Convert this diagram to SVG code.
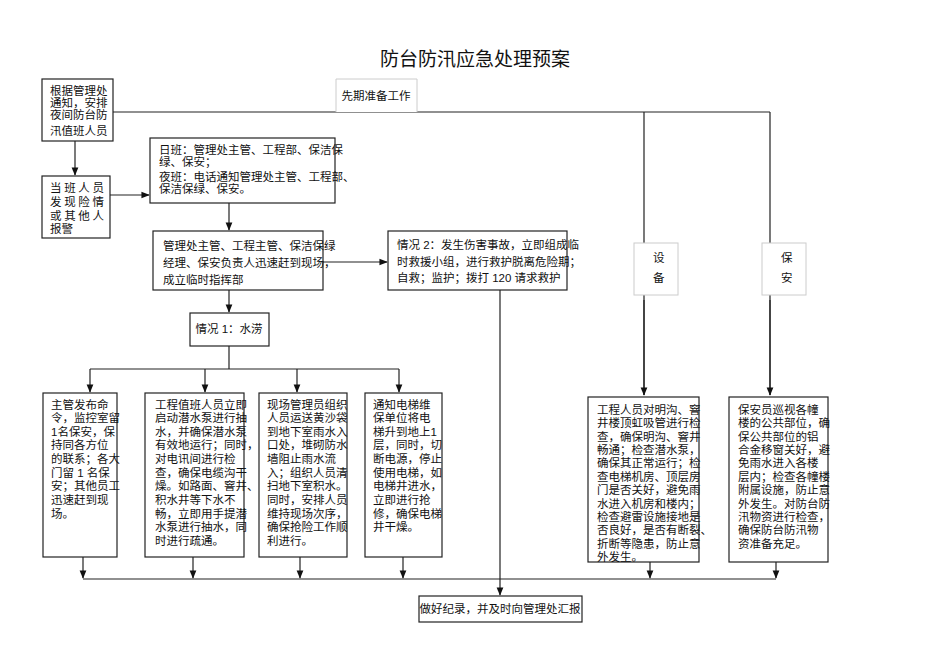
<svg xmlns="http://www.w3.org/2000/svg" width="950" height="672" viewBox="0 0 950 672">
<style>
text{font-family:"Liberation Sans","Noto Sans CJK SC",sans-serif;font-size:11.5px;fill:#111}
.b{fill:#fff;stroke:#222;stroke-width:1.2}
.g{fill:#fff;stroke:#ccc;stroke-width:1}
.l{fill:none;stroke:#222;stroke-width:1.2}
.t{font-size:19px}
</style>
<defs><marker id="a" viewBox="0 0 10 10" refX="9" refY="5" markerWidth="7" markerHeight="7" orient="auto"><path d="M0,1 L10,5 L0,9 z" fill="#111"/></marker></defs>
<rect width="950" height="672" fill="#fff"/>
<text class="t" x="475" y="66" text-anchor="middle">防台防汛应急处理预案</text>
<g id="connectors">
<path class="l" d="M113,112 H770 M644,112 V395 M770,112 V395"/>
<path class="l" marker-end="url(#a)" d="M644,300 V395"/>
<path class="l" marker-end="url(#a)" d="M770,300 V395"/>
<path class="l" marker-end="url(#a)" d="M75,141 V175"/>
<path class="l" marker-end="url(#a)" d="M110,195 H149"/>
<path class="l" marker-end="url(#a)" d="M229,203 V230"/>
<path class="l" marker-end="url(#a)" d="M323,262 H387"/>
<path class="l" marker-end="url(#a)" d="M229,290 V312"/>
<path class="l" d="M229,346 V369 M90,369 H399"/>
<path class="l" marker-end="url(#a)" d="M90,369 V392"/>
<path class="l" marker-end="url(#a)" d="M205,369 V392"/>
<path class="l" marker-end="url(#a)" d="M297,369 V392"/>
<path class="l" marker-end="url(#a)" d="M399,369 V392"/>
<path class="l" d="M83,579 H776"/>
<path class="l" marker-end="url(#a)" d="M83,557 V578"/>
<path class="l" marker-end="url(#a)" d="M193,557 V578"/>
<path class="l" marker-end="url(#a)" d="M300,557 V578"/>
<path class="l" marker-end="url(#a)" d="M403,557 V578"/>
<path class="l" marker-end="url(#a)" d="M650,562 V578"/>
<path class="l" marker-end="url(#a)" d="M776,562 V578"/>
<path class="l" marker-end="url(#a)" d="M500,290 V595"/>
</g>
<g id="prep"><path class="g" d="M336,112 V79 H417 V112"/><text x="376" y="100" text-anchor="middle">先期准备工作</text></g>
<g id="nA"><rect class="b" x="42" y="79" width="71" height="62"/>
<text x="50" y="95">根据管理处</text><text x="50" y="107">通知，安排</text><text x="50" y="119">夜间防台防</text><text x="50" y="135">汛值班人员</text></g>
<g id="nB"><rect class="b" x="42" y="176" width="68" height="62"/>
<text x="50" y="192" textLength="54">当班人员</text><text x="50" y="206" textLength="54">发现险情</text><text x="50" y="220" textLength="54">或其他人</text><text x="50" y="233">报警</text></g>
<g id="nC"><rect class="b" x="150" y="138" width="185" height="65"/>
<text x="159" y="154">日班：管理处主管、工程部、保洁保</text><text x="159" y="166">绿、保安；</text><text x="159" y="181">夜班：电话通知管理处主管、工程部、</text><text x="159" y="193">保洁保绿、保安。</text></g>
<g id="nD"><rect class="b" x="153" y="231" width="170" height="59"/>
<text x="163" y="250">管理处主管、工程主管、保洁保绿</text><text x="163" y="267">经理、保安负责人迅速赶到现场，</text><text x="163" y="284">成立临时指挥部</text></g>
<g id="nE"><rect class="b" x="388" y="231" width="179" height="59"/>
<text x="397" y="249">情况 2：发生伤害事故，立即组成临</text><text x="397" y="266">时救援小组，进行救护脱离危险期；</text><text x="397" y="282">自救；监护；拨打 120 请求救护</text></g>
<g id="nF"><rect class="b" x="190" y="313" width="79" height="33"/><text x="229" y="333" text-anchor="middle">情况 1：水涝</text></g>
<g id="sb1"><rect class="g" x="634" y="243" width="44" height="52"/><text x="653" y="262">设</text><text x="653" y="282">备</text></g>
<g id="sb2"><rect class="g" x="762" y="243" width="44" height="52"/><text x="781" y="262">保</text><text x="781" y="282">安</text></g>
<g id="w1"><rect class="b" x="43" y="393" width="74" height="164"/>
<text x="51" y="409">主管发布命</text><text x="51" y="422">令，监控室留</text><text x="51" y="436">1名保安，保</text><text x="51" y="449">持同各方位</text><text x="51" y="463">的联系；各大</text><text x="51" y="477">门留 1 名保</text><text x="51" y="490">安；其他员工</text><text x="51" y="504">迅速赶到现</text><text x="51" y="518">场。</text></g>
<g id="w2"><rect class="b" x="145" y="393" width="99" height="164"/>
<text x="155" y="409">工程值班人员立即</text><text x="155" y="422">启动潜水泵进行抽</text><text x="155" y="436">水，并确保潜水泵</text><text x="155" y="449">有效地运行；同时，</text><text x="155" y="463">对电讯间进行检</text><text x="155" y="477">查，确保电缆沟干</text><text x="155" y="490">燥。如路面、窨井、</text><text x="155" y="504">积水井等下水不</text><text x="155" y="518">畅，立即用手提潜</text><text x="155" y="531">水泵进行抽水，同</text><text x="155" y="545">时进行疏通。</text></g>
<g id="w3"><rect class="b" x="259" y="393" width="88" height="164"/>
<text x="267" y="409">现场管理员组织</text><text x="267" y="422">人员运送黄沙袋</text><text x="267" y="436">到地下室雨水入</text><text x="267" y="449">口处，堆砌防水</text><text x="267" y="463">墙阻止雨水流</text><text x="267" y="477">入；组织人员清</text><text x="267" y="490">扫地下室积水。</text><text x="267" y="504">同时，安排人员</text><text x="267" y="518">维持现场次序，</text><text x="267" y="531">确保抢险工作顺</text><text x="267" y="545">利进行。</text></g>
<g id="w4"><rect class="b" x="365" y="393" width="77" height="164"/>
<text x="373" y="409">通知电梯维</text><text x="373" y="422">保单位将电</text><text x="373" y="436">梯升到地上1</text><text x="373" y="449">层，同时，切</text><text x="373" y="463">断电源，停止</text><text x="373" y="477">使用电梯，如</text><text x="373" y="490">电梯井进水，</text><text x="373" y="504">立即进行抢</text><text x="373" y="518">修，确保电梯</text><text x="373" y="531">井干燥。</text></g>
<g id="e1"><rect class="b" x="588" y="397" width="111" height="165"/>
<text x="597" y="414">工程人员对明沟、窨</text><text x="597" y="427">井楼顶虹吸管进行检</text><text x="597" y="441">查，确保明沟、窨井</text><text x="597" y="454">畅通；检查潜水泵，</text><text x="597" y="467">确保其正常运行；检</text><text x="597" y="481">查电梯机房、顶层房</text><text x="597" y="494">门是否关好，避免雨</text><text x="597" y="508">水进入机房和楼内；</text><text x="597" y="521">检查避雷设施接地是</text><text x="597" y="534">否良好，是否有断裂、</text><text x="597" y="548">折断等隐患，防止意</text><text x="597" y="561">外发生。</text></g>
<g id="e2"><rect class="b" x="729" y="397" width="99" height="165"/>
<text x="738" y="414">保安员巡视各幢</text><text x="738" y="427">楼的公共部位，确</text><text x="738" y="441">保公共部位的铝</text><text x="738" y="454">合金移窗关好，避</text><text x="738" y="467">免雨水进入各楼</text><text x="738" y="481">层内；检查各幢楼</text><text x="738" y="494">附属设施，防止意</text><text x="738" y="508">外发生。对防台防</text><text x="738" y="521">汛物资进行检查，</text><text x="738" y="534">确保防台防汛物</text><text x="738" y="548">资准备充足。</text></g>
<g id="rec"><rect class="b" x="419" y="596" width="163" height="26"/><text x="500" y="613" text-anchor="middle">做好纪录，并及时向管理处汇报</text></g>
</svg>
